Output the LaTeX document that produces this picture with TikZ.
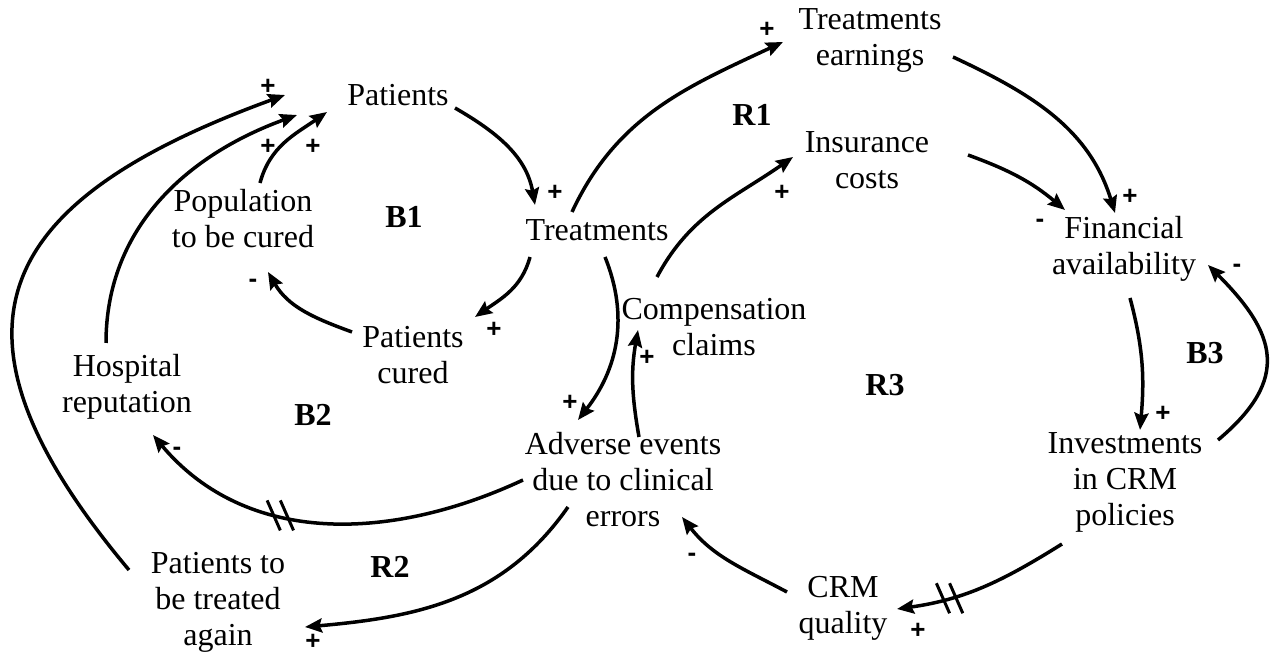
\documentclass[tikz,border=0pt]{standalone}
\usepackage{fontspec}
\setmainfont{Liberation Serif}
\newfontfamily\signfont{Liberation Sans}
\usetikzlibrary{arrows.meta,calc,decorations.markings}

\tikzset{
  var/.style={align=center,inner sep=0pt,font=\fontsize{16}{18}\selectfont},
  looplabel/.style={inner sep=0pt,font=\fontsize{16}{18}\selectfont\bfseries},
  polarity/.style={inner sep=0pt,font=\signfont\fontsize{13}{13}\selectfont\bfseries},
  link/.style={line width=1.75pt,-{Stealth[length=8.5pt,width=7pt,inset=1.2pt]}},
  delaymarks/.style={postaction={decorate,decoration={markings,
    mark=at position #1 with {\pgftransformresetnontranslations
      \draw[-,line width=1.5pt] (0pt,-7.5pt)--(-6.6pt,7.5pt) (6.6pt,-7.5pt)--(0pt,7.5pt);}}}}
}

\begin{document}
\begin{tikzpicture}[x=0.5pt,y=0.5pt]
\useasboundingbox (0,0) rectangle (1279,657);
% variables
\node[var] (pat) at (398,562) {Patients};
\node[var] (pop) at (243,438) {Population\\to be cured};
\node[var] (trt) at (597,427) {Treatments};
\node[var] (cur) at (413,302) {Patients\\cured};
\node[var] (hosp) at (127,270) {Hospital\\reputation};
\node[var] (adv) at (623,177) {Adverse events\\due to clinical\\errors};
\node[var] (again) at (218,55) {Patients to\\be treated\\again};
\node[var] (earn) at (870,617) {Treatments\\earnings};
\node[var] (ins) at (867,497) {Insurance\\costs};
\node[var] (fin) at (1124,408) {Financial\\availability};
\node[var] (comp) at (714,330) {Compensation\\claims};
\node[var] (inv) at (1125,175) {Investments\\in CRM\\policies};
\node[var] (crm) at (843,49) {CRM\\quality};
% loops
\node[looplabel] (b1) at (404,440) {B1};
\node[looplabel] (b2) at (313,242) {B2};
\node[looplabel] (b3) at (1205,304) {B3};
\node[looplabel] (r1) at (752,542) {R1};
\node[looplabel] (r2) at (390,90) {R2};
\node[looplabel] (r3) at (885,272) {R3};
% links
\draw[link] ($(pat)+(57,-13)$) to[out=-30,in=100] ($(trt)+(-62,25)$);
\draw[link] ($(trt)+(-67,-27)$) to[out=-105,in=35] ($(cur)+(62,38)$);
\draw[link] ($(cur)+(-61,23)$) to[out=160,in=-60] ($(pop)+(25,-53)$);
\draw[link] ($(pop)+(17,36)$) to[out=75,in=-145] ($(pat)+(-71,-17)$);
\draw[link] ($(hosp)+(-21,44)$) to[out=90,in=-160] ($(pat)+(-101,-20)$);
\draw[link] ($(again)+(-89,32)$) to[out=130,in=-160,looseness=1.6] ($(pat)+(-113,0)$);
\draw[link,delaymarks=0.62] ($(adv)+(-100,0)$) to[out=205,in=-50] ($(hosp)+(26,-48)$);
\draw[link] ($(adv)+(-55,-27)$) to[out=235,in=5] ($(again)+(87,-25)$);
\draw[link] ($(trt)+(8,-27)$) to[out=-68,in=52] ($(adv)+(-45,60)$);
\draw[link] ($(adv)+(16,43)$) to[out=100,in=-100] ($(comp)+(-76,-3)$);
\draw[link] ($(trt)+(-25,18)$) to[out=65,in=-155] ($(earn)+(-87,-2)$);
\draw[link] ($(comp)+(-57,50)$) to[out=62,in=-145] ($(ins)+(-74,3)$);
\draw[link] ($(earn)+(83,-17)$) to[out=-25,in=107] ($(fin)+(-9,36)$);
\draw[link] ($(ins)+(101,5)$) to[out=-20,in=140] ($(fin)+(-59,39)$);
\draw[link] ($(fin)+(6,-49)$) to[out=-75,in=85] ($(inv)+(15,52)$);
\draw[link] ($(inv)+(93,42)$) to[out=40,in=-45,looseness=1.4] ($(fin)+(84,-16)$);
\draw[link,delaymarks=0.7] ($(inv)+(-63,-62)$) to[out=212,in=8] ($(crm)+(54,-1)$);
\draw[link] ($(crm)+(-56,16)$) to[out=152,in=-52] ($(adv)+(59,-37)$);
% polarities
\node[polarity] (s1) at (268,570) {+};
\node[polarity] (s2) at (268,510) {+};
\node[polarity] (s3) at (313,510) {+};
\node[polarity] (s4) at (555,464) {+};
\node[polarity] (s5) at (253,374) {-};
\node[polarity] (s6) at (494,327) {+};
\node[polarity] (s7) at (177,206) {-};
\node[polarity] (s8) at (313,15) {+};
\node[polarity] (s9) at (570,254) {+};
\node[polarity] (s10) at (647,299) {+};
\node[polarity] (s11) at (692,100) {-};
\node[polarity] (s12) at (918,26) {+};
\node[polarity] (s13) at (767,627) {+};
\node[polarity] (s14) at (782,464) {+};
\node[polarity] (s15) at (1130,460) {+};
\node[polarity] (s16) at (1040,434) {-};
\node[polarity] (s17) at (1237,389) {-};
\node[polarity] (s18) at (1163,243) {+};
\end{tikzpicture}
\end{document}
